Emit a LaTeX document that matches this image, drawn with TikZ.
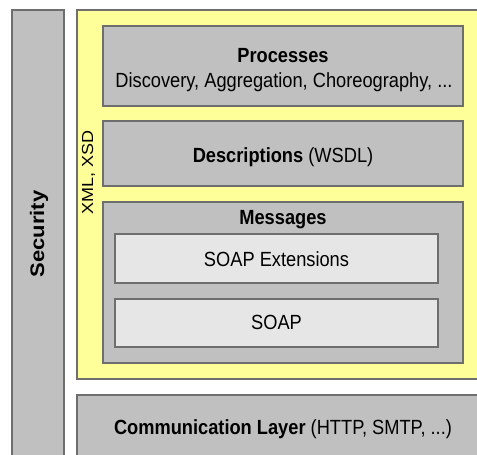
\documentclass[tikz,border=0pt]{standalone}
\usepackage{fontspec}
\usepackage{graphicx}
\setmainfont{Liberation Sans}[FakeStretch=0.89]
\newfontfamily\vfont{Liberation Sans}
\definecolor{edgegray}{HTML}{6E6E6E}
\definecolor{boxgray}{HTML}{C0C0C0}
\definecolor{lightgray2}{HTML}{E6E6E6}
\definecolor{paleyellow}{HTML}{FFFF99}
\tikzset{
  layer/.style={draw=edgegray, line width=1.3pt, fill=boxgray},
  inner/.style={draw=edgegray, line width=1.3pt, fill=lightgray2},
  ybox/.style={draw=edgegray, line width=1.3pt, fill=paleyellow},
  lbl/.style={inner sep=0pt, anchor=base, font=\fontsize{20.5}{24}\selectfont},
  vlbl/.style={inner sep=0pt, rotate=90, anchor=center},
}
\begin{document}
\begin{tikzpicture}[x=1pt,y=-1pt]
\useasboundingbox (0,0) rectangle (477,455);
\clip (0,0) rectangle (477,455);
\fill[white] (0,0) rectangle (477,455);
% Security
\draw[layer] (12,10) rectangle (64,470);
\node[vlbl] (sec) at (39,234) {\scalebox{1}[0.89]{\vfont\fontsize{22}{26}\selectfont\bfseries Security}};
% yellow XML frame
\draw[ybox] (77,10) rectangle (490,379);
\node[vlbl] (xml) at (88.5,172) {\scalebox{1}[0.89]{\vfont\fontsize{18}{22}\selectfont XML, XSD}};
% Processes
\draw[layer] (103,26) rectangle (463,106);
\node[lbl] (proc) at (283,62) {\bfseries Processes};
\node[lbl] (procsub) at (284,87) {Discovery, Aggregation, Choreography, ...};
% Descriptions
\draw[layer] (103,121) rectangle (463,186);
\node[lbl] (desc) at (283,162) {\textbf{Descriptions} (WSDL)};
% Messages
\draw[layer] (103,202) rectangle (463,363);
\node[lbl] (msg) at (283,224) {\bfseries Messages};
\draw[inner] (115,234) rectangle (438,283);
\node[lbl] (soapext) at (276.5,266) {SOAP Extensions};
\draw[inner] (115,299) rectangle (438,347);
\node[lbl] (soap) at (276.5,329) {SOAP};
% Communication layer
\draw[layer] (77,395) rectangle (490,470);
\node[lbl] (comm) at (283,434) {\textbf{Communication Layer} (HTTP, SMTP, ...)};
\end{tikzpicture}
\end{document}
